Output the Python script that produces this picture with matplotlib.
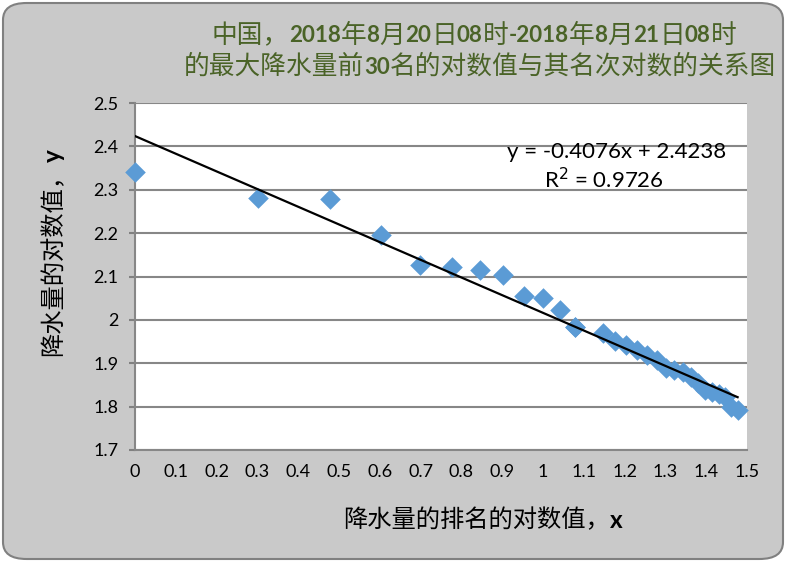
import matplotlib
matplotlib.use("Agg")
import matplotlib.pyplot as plt
from matplotlib.patches import FancyBboxPatch
import numpy as np
import re

plt.rcParams['font.family'] = ['Noto Sans CJK SC', 'DejaVu Sans']

# log10 of rank (rank 12 tied -> two points at 1.079)
x_vals = [0.0, 0.301, 0.477, 0.602, 0.699, 0.778, 0.845, 0.903, 0.954, 1.0,
          1.041, 1.079, 1.079, 1.146, 1.176, 1.204, 1.230, 1.255, 1.279, 1.301,
          1.322, 1.342, 1.362, 1.380, 1.398, 1.415, 1.431, 1.447, 1.462, 1.477]
y_vals = [2.342, 2.281, 2.279, 2.196, 2.126, 2.121, 2.116, 2.104, 2.055, 2.051,
          2.022, 1.983, 1.983, 1.969, 1.952, 1.942, 1.930, 1.918, 1.908, 1.890,
          1.884, 1.880, 1.868, 1.855, 1.838, 1.834, 1.830, 1.822, 1.800, 1.792]

slope = -0.4076
intercept = 2.4238
eq_text = "y = -0.4076x + 2.4238"
r2_text = "R$^2$ = 0.9726"

title1 = "中国，2018年8月20日08时-2018年8月21日08时"
title2 = "的最大降水量前30名的对数值与其名次对数的关系图"
xlabel = "降水量的排名的对数值，x"
ylabel = "降水量的对数值，y"

x_ticks = [0, 0.1, 0.2, 0.3, 0.4, 0.5, 0.6, 0.7, 0.8, 0.9, 1, 1.1, 1.2, 1.3, 1.4, 1.5]
x_ticklabels = ["0", "0.1", "0.2", "0.3", "0.4", "0.5", "0.6", "0.7", "0.8", "0.9",
                "1", "1.1", "1.2", "1.3", "1.4", "1.5"]
y_ticks = [1.7, 1.8, 1.9, 2.0, 2.1, 2.2, 2.3, 2.4, 2.5]
y_ticklabels = ["1.7", "1.8", "1.9", "2", "2.1", "2.2", "2.3", "2.4", "2.5"]

W, H = 786, 562
fig = plt.figure(figsize=(W / 100, H / 100), dpi=100, facecolor='white')
renderer = fig.canvas.get_renderer()

bg = FancyBboxPatch((3 / W, 3 / H), (W - 6) / W, (H - 6) / H,
                    boxstyle="round,pad=0,rounding_size=0.03",
                    transform=fig.transFigure, facecolor='#C9C9C9',
                    edgecolor='#808080', linewidth=1.5, zorder=-10)
fig.patches.append(bg)

ax = fig.add_axes([135 / W, 1 - 450 / H, (747 - 135) / W, (450 - 103) / H])
ax.set_facecolor('white')
ax.set_xlim(0, 1.5)
ax.set_ylim(1.7, 2.5)

ax.set_yticks(y_ticks)
ax.set_yticklabels(y_ticklabels, fontfamily=['Lato', 'DejaVu Sans'], fontsize=13)
ax.set_xticks(x_ticks)
ax.set_xticklabels(x_ticklabels, fontfamily=['Lato', 'DejaVu Sans'], fontsize=13)
ax.tick_params(axis='both', colors='#808080', labelcolor='black', length=4, width=1.5)
ax.tick_params(axis='x', pad=10, length=0)
ax.tick_params(axis='y', pad=8)

ax.grid(axis='y', color='#878787', linewidth=1.5)
ax.set_axisbelow(True)
for s in ['top', 'right']:
    ax.spines[s].set_visible(False)
for s in ['left', 'bottom']:
    ax.spines[s].set_color('#878787')
    ax.spines[s].set_linewidth(1.5)

ax.scatter(x_vals, y_vals, marker='D', s=110, color='#5B9BD5', linewidths=0,
           zorder=3, clip_on=False)

xl = np.array([0.0, max(x_vals)])
ax.plot(xl, slope * xl + intercept, color='black', linewidth=1.6, zorder=4)

fig.text(617 / W, 1 - 152 / H, eq_text, fontsize=16, ha='center', va='center',
         fontfamily=['Lato', 'DejaVu Sans'])
fig.text(604 / W, 1 - 180 / H, r2_text, fontsize=16, ha='center', va='center',
         fontfamily=['Lato', 'DejaVu Sans'])


def mixed_text(s, cx, cy, size, color='black', vertical=False, latin_scale=1.0):
    """Place text with latin runs bold, CJK runs normal, centred at (cx, cy) px."""
    runs = re.findall(r'[0-9A-Za-z\-\.]+|[^0-9A-Za-z\-\.]+', s)
    items = []
    for r in runs:
        latin = re.match(r'[0-9A-Za-z\-\.]', r) is not None
        t = fig.text(0, 0, r, fontsize=size * (latin_scale if latin else 1.0),
                     color=color,
                     fontweight='bold' if latin else 'normal',
                     fontfamily=['Lato', 'DejaVu Sans'] if latin else ['Noto Sans CJK SC', 'DejaVu Sans'],
                     ha='left' if not vertical else 'center',
                     va='center' if not vertical else 'bottom',
                     rotation=90 if vertical else 0)
        bb = t.get_window_extent(renderer)
        items.append((t, bb.height if vertical else bb.width))
    total = sum(w for _, w in items)
    if vertical:
        y = (H - cy) - total / 2
        for t, w in items:
            t.set_position((cx / W, y / H))
            y += w
    else:
        x = cx - total / 2
        for t, w in items:
            t.set_position((x / W, 1 - cy / H))
            x += w


mixed_text(title1, 474, 36, 18.5, color='#4A6327', latin_scale=0.87)
mixed_text(title2, 480, 67, 18.5, color='#4A6327', latin_scale=0.87)
mixed_text(xlabel, 483, 520, 17.5)
mixed_text(ylabel, 53, 253, 17.5, vertical=True)

fig.savefig("out.png", dpi=100, facecolor='white')
